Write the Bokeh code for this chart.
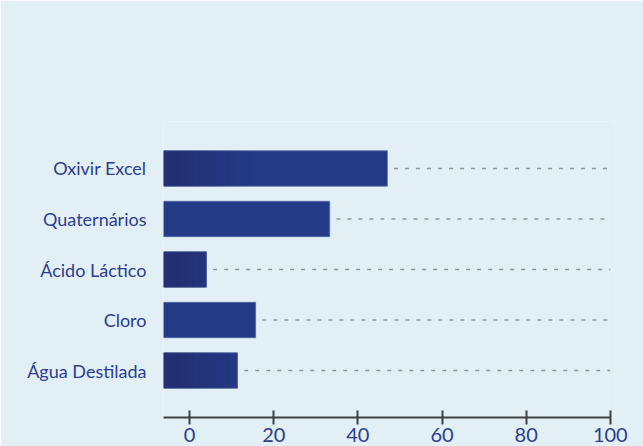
from bokeh.plotting import figure
from bokeh.models import FactorRange, Range1d, FixedTicker, ColumnDataSource
from bokeh.embed import file_html
from bokeh.resources import INLINE

# ---- data ----
categories = ["Oxivir Excel", "Quaternários", "Ácido Láctico", "Cloro", "Água Destilada"]
values = [47.0, 33.3, 4.0, 15.7, 11.4]
x_ticks = [0, 20, 40, 60, 80, 100]
track_end = 100

# ---- style ----
BG = "#e2f0f5"
BAR = "#243a87"
SHADE = "#2b2d5a"
TEXT = "#2d3c8e"
gradient_flags = [True, False, True, False, True]
FONT = "Lato"

x_start = -6.2
factors = list(reversed(categories))

p = figure(width=643, height=446, output_backend="svg", toolbar_location=None,
           x_range=Range1d(x_start, 101),
           y_range=FactorRange(factors=factors, range_padding=0.43, range_padding_units="absolute"),
           min_border_left=163, min_border_right=29, min_border_top=121, min_border_bottom=29,
           background_fill_color=BG, border_fill_color=BG, outline_line_color=None)

src = ColumnDataSource(dict(cat=categories, val=values,
                            lo=[x_start] * len(values),
                            dash0=[v + 1.6 for v in values],
                            dash1=[track_end] * len(values)))

# dashed tracks
p.segment(x0="dash0", y0="cat", x1="dash1", y1="cat", source=src,
          line_color="#8d969a", line_width=1.5, line_dash="4 7")

# bars
p.hbar(y="cat", left="lo", right="val", height=0.7, source=src,
       fill_color=BAR, line_color="#5064a6", line_width=1, line_alpha=0.8)

# left-side darker shading (stepped gradient) on some bars
n_layers = 12
grad_len = 21.0
for i in range(n_layers):
    cats, rights = [], []
    for c, v, f in zip(categories, values, gradient_flags):
        if f:
            cats.append(c)
            rights.append(min(v, x_start + grad_len * (i + 1) / n_layers))
    p.hbar(y=cats, left=[x_start] * len(cats), right=rights, height=0.7,
           fill_color=SHADE, fill_alpha=0.05, line_color=None)

# axes
p.xgrid.visible = False
p.ygrid.visible = False

xa = p.xaxis[0]
xa.ticker = FixedTicker(ticks=x_ticks)
xa.bounds = (x_start, track_end)
xa.axis_line_color = "#3c4043"
xa.axis_line_width = 2
xa.major_tick_line_color = "#3c4043"
xa.major_tick_line_width = 2
xa.major_tick_in = 7
xa.major_tick_out = 7
xa.minor_tick_line_color = None
xa.major_label_standoff = 3
xa.major_label_text_font = FONT
xa.major_label_text_font_size = "20px"
xa.major_label_text_color = TEXT

ya = p.yaxis[0]
ya.axis_line_color = None
ya.major_tick_line_color = None
ya.minor_tick_line_color = None
ya.major_label_standoff = 11
ya.major_label_text_font = FONT
ya.major_label_text_font_size = "18px"
ya.major_label_text_color = TEXT

open("out.html", "w").write(file_html(p, INLINE))
